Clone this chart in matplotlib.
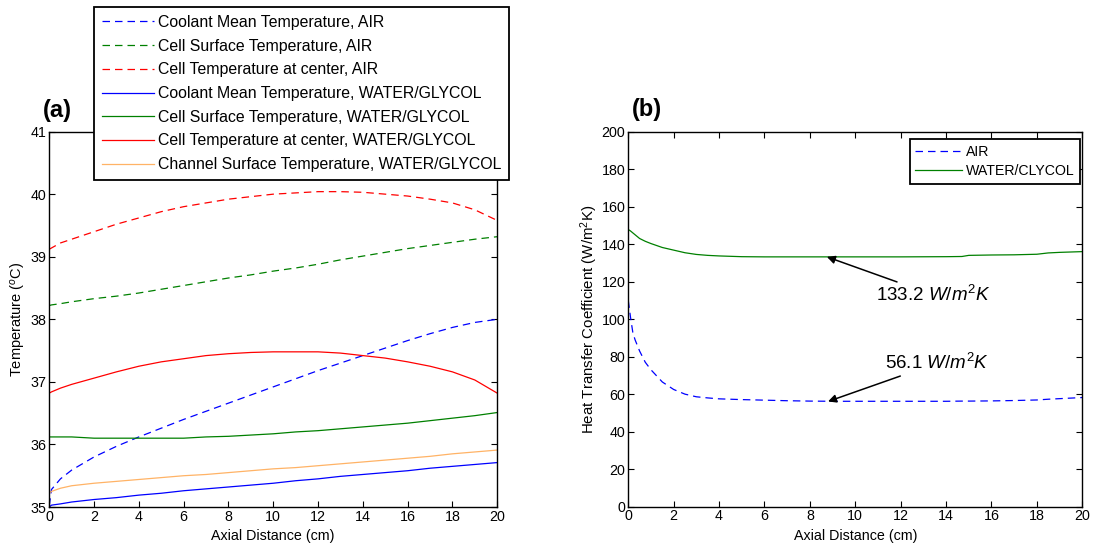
import matplotlib
matplotlib.use('Agg')
import matplotlib.pyplot as plt

plt.rcParams['font.family'] = ['Liberation Sans', 'DejaVu Sans']
plt.rcParams['mathtext.fontset'] = 'custom'
plt.rcParams['mathtext.rm'] = 'Liberation Sans'
plt.rcParams['mathtext.it'] = 'Liberation Sans:italic'

# (a) temperatures along the channel
x_a = [0, 0.1, 0.5, 1, 2, 3, 4, 5, 6, 7, 8, 9, 10, 11, 12, 13, 14, 15, 16, 17, 18, 19, 20]
air_coolant = [35.02, 35.28, 35.45, 35.59, 35.80, 35.97, 36.12, 36.26, 36.40, 36.53, 36.66, 36.79,
               36.92, 37.05, 37.18, 37.30, 37.42, 37.54, 37.66, 37.77, 37.87, 37.95, 38.0]
air_surface = [38.22, 38.23, 38.25, 38.28, 38.33, 38.37, 38.42, 38.48, 38.54, 38.60, 38.66, 38.71,
               38.77, 38.82, 38.88, 38.95, 39.01, 39.07, 39.13, 39.18, 39.23, 39.28, 39.32]
air_center = [39.12, 39.14, 39.22, 39.28, 39.40, 39.52, 39.62, 39.72, 39.80, 39.86, 39.92, 39.96,
              40.0, 40.02, 40.04, 40.04, 40.03, 40.0, 39.97, 39.92, 39.86, 39.75, 39.58]
wg_coolant = [35.0, 35.03, 35.05, 35.08, 35.12, 35.15, 35.19, 35.22, 35.26, 35.29, 35.32, 35.35,
              35.38, 35.42, 35.45, 35.49, 35.52, 35.55, 35.58, 35.62, 35.65, 35.68, 35.71]
wg_surface = [36.12, 36.12, 36.12, 36.12, 36.10, 36.10, 36.10, 36.10, 36.10, 36.12, 36.13, 36.15,
              36.17, 36.20, 36.22, 36.25, 36.28, 36.31, 36.34, 36.38, 36.42, 36.46, 36.51]
wg_center = [36.82, 36.84, 36.90, 36.96, 37.06, 37.16, 37.25, 37.32, 37.37, 37.42, 37.45, 37.47,
             37.48, 37.48, 37.48, 37.46, 37.42, 37.38, 37.32, 37.25, 37.16, 37.03, 36.82]
wg_channel = [35.22, 35.25, 35.30, 35.34, 35.38, 35.41, 35.44, 35.47, 35.50, 35.52, 35.55, 35.58,
              35.61, 35.63, 35.66, 35.69, 35.72, 35.75, 35.78, 35.81, 35.85, 35.88, 35.91]

labels_a = ['Coolant Mean Temperature, AIR',
            'Cell Surface Temperature, AIR',
            'Cell Temperature at center, AIR',
            'Coolant Mean Temperature, WATER/GLYCOL',
            'Cell Surface Temperature, WATER/GLYCOL',
            'Cell Temperature at center, WATER/GLYCOL',
            'Channel Surface Temperature, WATER/GLYCOL']

# (b) heat transfer coefficient
x_b = [0, 0.1, 0.2, 0.3, 0.5, 0.75, 1, 1.5, 2, 2.5, 3, 3.5, 4, 5, 6, 7, 8, 9, 10, 12, 14,
       14.7, 15, 16, 17, 18, 18.5, 19, 20]
h_air = [110, 101, 93, 89, 83, 77, 73, 66.5, 62.5, 60, 58.6, 58, 57.5, 57.1, 56.8, 56.5, 56.3,
         56.2, 56.2, 56.2, 56.2, 56.3, 56.3, 56.4, 56.6, 56.9, 57.3, 57.6, 58.2]
h_water = [147.8, 147, 146, 145, 143, 141.5, 140.3, 138.2, 136.8, 135.4, 134.5, 134, 133.7,
           133.3, 133.2, 133.2, 133.2, 133.2, 133.2, 133.2, 133.3, 133.4, 134.0, 134.2, 134.3,
           134.6, 135.3, 135.6, 136.0]
labels_b = ['AIR', 'WATER/CLYCOL']

blue = (0, 0, 1)
green = (0, 0.5, 0)
red = (1, 0, 0)
orange = (1, 0.7, 0.4)
dash = (0, (6, 4))
lw = 0.9

fig = plt.figure(figsize=(11.02, 5.46), dpi=100)
ax1 = fig.add_axes([0.0447, 0.0714, 0.4065, 0.6876])
ax2 = fig.add_axes([0.5701, 0.0720, 0.4120, 0.6870])

ax1.plot(x_a, air_coolant, color=blue, ls=dash, lw=lw, label=labels_a[0])
ax1.plot(x_a, air_surface, color=green, ls=dash, lw=lw, label=labels_a[1])
ax1.plot(x_a, air_center, color=red, ls=dash, lw=lw, label=labels_a[2])
ax1.plot(x_a, wg_coolant, color=blue, lw=lw, label=labels_a[3])
ax1.plot(x_a, wg_surface, color=green, lw=lw, label=labels_a[4])
ax1.plot(x_a, wg_center, color=red, lw=lw, label=labels_a[5])
ax1.plot(x_a, wg_channel, color=orange, lw=lw, label=labels_a[6])
ax1.set_xlim(0, 20)
ax1.set_ylim(35, 41)
ax1.set_xticks(range(0, 21, 2))
ax1.set_yticks(range(35, 42))
ax1.set_xlabel('Axial Distance (cm)', fontsize=10.3, labelpad=4)
ax1.set_ylabel('Temperature ($^o$C)', fontsize=10.5, labelpad=2)

ax2.plot(x_b, h_air, color=blue, ls=dash, lw=lw, label=labels_b[0])
ax2.plot(x_b, h_water, color=green, lw=lw, label=labels_b[1])
ax2.set_xlim(0, 20)
ax2.set_ylim(0, 200)
ax2.set_xticks(range(0, 21, 2))
ax2.set_yticks(range(0, 201, 20))
ax2.set_xlabel('Axial Distance (cm)', fontsize=10.3, labelpad=4)
ax2.set_ylabel('Heat Transfer Coefficient (W/m$^2$K)', fontsize=10.8, labelpad=1)

for ax in (ax1, ax2):
    ax.tick_params(direction='in', top=True, right=True, length=4, width=0.8,
                   labelsize=10.3, pad=2, colors='black')
    for s in ax.spines.values():
        s.set_linewidth(1.0)

ax2.annotate('133.2 $W/m^2K$', xy=(8.75, 133.2), xytext=(10.9, 113),
             fontsize=13.5, va='center', ha='left',
             arrowprops=dict(arrowstyle='-|>', color='black', lw=1.1,
                             shrinkA=0, shrinkB=0, mutation_scale=12))
ax2.annotate('56.1 $W/m^2K$', xy=(8.8, 56.1), xytext=(11.3, 76.5),
             fontsize=13.5, va='center', ha='left',
             arrowprops=dict(arrowstyle='-|>', color='black', lw=1.1,
                             shrinkA=0, shrinkB=0, mutation_scale=12))

h, l = ax1.get_legend_handles_labels()
leg1 = fig.legend(h, l, loc='upper left', bbox_to_anchor=(94 / 1102, 1 - 7 / 546),
                  fontsize=11.4, handlelength=3.3, frameon=True, fancybox=False,
                  framealpha=1, edgecolor='black', borderaxespad=0,
                  labelspacing=0.55, borderpad=0.5, handletextpad=0.25)
leg1.get_frame().set_linewidth(1.3)

leg2 = fig.legend(*ax2.get_legend_handles_labels(), loc='upper right',
                  bbox_to_anchor=(1080 / 1102, 1 - 139 / 546), fontsize=10.2,
                  handlelength=3.3, fancybox=False, framealpha=1, edgecolor='black',
                  borderaxespad=0, labelspacing=0.4, borderpad=0.4, handletextpad=0.25)
leg2.get_frame().set_linewidth(1.3)

fig.text(43 / 1102, 1 - 117 / 546, '(a)', fontsize=17, fontweight='bold', ha='left', va='baseline')
fig.text(632 / 1102, 1 - 116 / 546, '(b)', fontsize=17, fontweight='bold', ha='left', va='baseline')

fig.savefig('out.png', dpi=100)
